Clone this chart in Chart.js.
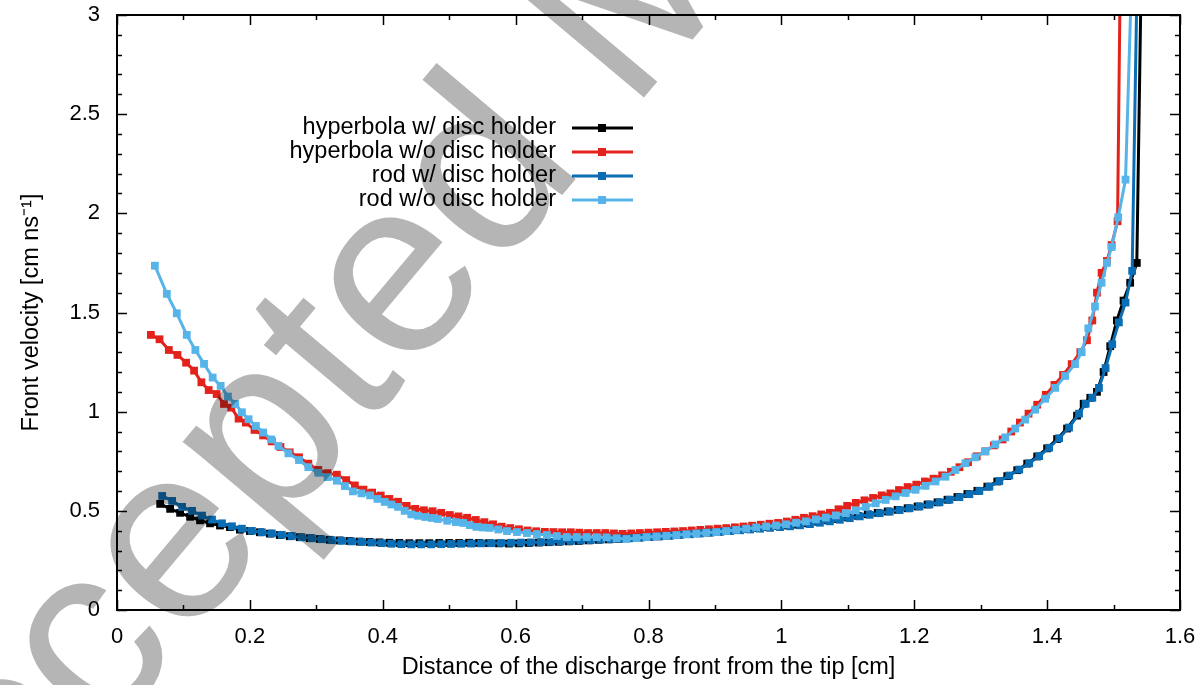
<!DOCTYPE html>
<html><head><meta charset="utf-8">
<script src="https://cdn.jsdelivr.net/npm/chart.js@4.4.1/dist/chart.umd.min.js"></script>
<style>html,body{margin:0;padding:0;background:#fff;}canvas{display:block;}</style>
</head><body>
<canvas id="c" width="1202" height="685"></canvas>
<script>
const xTickLabels = ['0','0.2','0.4','0.6','0.8','1','1.2','1.4','1.6'];
const yTickLabels = ['0','0.5','1','1.5','2','2.5','3'];
const seriesNames = ['hyperbola w/ disc holder','hyperbola w/o disc holder','rod w/ disc holder','rod w/o disc holder'];
const xTitle = 'Distance of the discharge front from the tip [cm]';
const yTitle = 'Front velocity [cm ns\u207B\u00B9]';
const watermarkText = 'Accepted Manuscript';

const hypWithX = [0.065,0.08,0.095,0.11,0.125,0.14,0.155,0.17,0.185,0.2,0.215,0.23,0.245,0.26,0.275,0.29,0.305,0.32,0.335,0.35,0.365,0.38,0.395,0.41,0.425,0.44,0.455,0.47,0.485,0.5,0.515,0.53,0.545,0.56,0.575,0.59,0.605,0.62,0.635,0.65,0.665,0.68,0.695,0.71,0.725,0.74,0.755,0.77,0.785,0.8,0.815,0.83,0.845,0.86,0.875,0.89,0.905,0.92,0.935,0.95,0.965,0.98,0.995,1.01,1.025,1.04,1.055,1.07,1.085,1.1,1.115,1.13,1.145,1.16,1.175,1.19,1.205,1.22,1.235,1.25,1.265,1.28,1.295,1.31,1.325,1.34,1.355,1.37,1.385,1.4,1.415,1.43,1.445,1.455,1.465,1.475,1.485,1.495,1.505,1.515,1.525,1.535,1.543];
const hypWithY = [0.535,0.51,0.49,0.47,0.452,0.437,0.426,0.418,0.405,0.398,0.392,0.385,0.378,0.372,0.367,0.362,0.358,0.354,0.351,0.348,0.345,0.343,0.341,0.339,0.338,0.337,0.337,0.337,0.338,0.338,0.338,0.339,0.338,0.337,0.336,0.335,0.336,0.338,0.34,0.342,0.344,0.346,0.348,0.351,0.354,0.356,0.359,0.362,0.365,0.368,0.371,0.375,0.379,0.383,0.387,0.391,0.395,0.399,0.403,0.408,0.413,0.418,0.423,0.426,0.43,0.437,0.445,0.452,0.459,0.467,0.475,0.483,0.49,0.497,0.505,0.513,0.522,0.532,0.543,0.556,0.57,0.585,0.601,0.622,0.648,0.675,0.705,0.738,0.774,0.815,0.862,0.915,0.98,1.04,1.07,1.1,1.2,1.33,1.46,1.56,1.65,1.75,3.5];

const hypWithoutX = [0.051,0.064,0.078,0.091,0.104,0.116,0.127,0.138,0.150,0.161,0.172,0.183,0.194,0.207,0.22,0.233,0.246,0.26,0.274,0.288,0.303,0.317,0.331,0.345,0.358,0.371,0.384,0.397,0.41,0.423,0.436,0.449,0.462,0.475,0.488,0.501,0.514,0.527,0.54,0.553,0.566,0.579,0.592,0.605,0.618,0.631,0.644,0.657,0.67,0.683,0.696,0.709,0.722,0.735,0.748,0.761,0.774,0.787,0.8,0.813,0.826,0.839,0.852,0.865,0.878,0.891,0.904,0.917,0.93,0.943,0.956,0.969,0.982,0.995,1.008,1.021,1.034,1.047,1.06,1.073,1.086,1.099,1.112,1.125,1.138,1.151,1.164,1.177,1.19,1.203,1.216,1.229,1.242,1.255,1.268,1.281,1.294,1.307,1.32,1.333,1.346,1.359,1.372,1.385,1.398,1.411,1.424,1.437,1.45,1.46,1.468,1.475,1.482,1.49,1.497,1.506,1.511];
const hypWithoutY = [1.387,1.365,1.311,1.286,1.247,1.207,1.148,1.109,1.089,1.039,1.02,0.965,0.945,0.908,0.88,0.85,0.822,0.795,0.77,0.738,0.706,0.69,0.682,0.655,0.628,0.607,0.592,0.577,0.56,0.546,0.525,0.51,0.503,0.498,0.49,0.479,0.472,0.465,0.454,0.443,0.432,0.42,0.413,0.407,0.401,0.397,0.394,0.393,0.392,0.392,0.39,0.388,0.388,0.388,0.386,0.384,0.386,0.388,0.39,0.392,0.394,0.396,0.398,0.401,0.404,0.407,0.41,0.413,0.417,0.421,0.425,0.43,0.435,0.439,0.446,0.455,0.465,0.473,0.482,0.49,0.508,0.525,0.54,0.553,0.565,0.578,0.588,0.605,0.62,0.632,0.648,0.662,0.679,0.697,0.72,0.745,0.775,0.8,0.83,0.86,0.9,0.945,0.99,1.035,1.085,1.135,1.185,1.24,1.3,1.36,1.46,1.6,1.7,1.76,1.84,1.96,3.5];

const rodWithX = [0.068,0.083,0.098,0.113,0.128,0.143,0.158,0.173,0.188,0.203,0.218,0.233,0.248,0.263,0.278,0.293,0.308,0.323,0.338,0.353,0.368,0.383,0.398,0.413,0.428,0.443,0.458,0.473,0.488,0.503,0.518,0.533,0.548,0.563,0.578,0.593,0.608,0.623,0.638,0.653,0.668,0.683,0.698,0.713,0.728,0.743,0.758,0.773,0.788,0.803,0.818,0.833,0.848,0.863,0.878,0.893,0.908,0.923,0.938,0.953,0.968,0.983,0.998,1.013,1.028,1.043,1.058,1.073,1.088,1.103,1.118,1.133,1.148,1.163,1.178,1.193,1.208,1.223,1.238,1.253,1.268,1.283,1.298,1.313,1.328,1.343,1.358,1.373,1.388,1.403,1.418,1.433,1.448,1.458,1.468,1.478,1.488,1.498,1.508,1.518,1.528,1.537];
const rodWithY = [0.575,0.55,0.52,0.5,0.476,0.456,0.437,0.422,0.41,0.399,0.392,0.386,0.379,0.373,0.367,0.362,0.357,0.352,0.349,0.346,0.343,0.34,0.337,0.334,0.332,0.331,0.331,0.331,0.332,0.333,0.334,0.335,0.336,0.337,0.338,0.339,0.34,0.341,0.342,0.344,0.346,0.348,0.35,0.352,0.355,0.357,0.36,0.362,0.365,0.368,0.372,0.375,0.379,0.382,0.386,0.39,0.394,0.398,0.402,0.406,0.41,0.414,0.418,0.422,0.427,0.433,0.44,0.447,0.455,0.463,0.472,0.48,0.488,0.496,0.504,0.513,0.522,0.532,0.543,0.556,0.569,0.584,0.6,0.622,0.65,0.678,0.708,0.74,0.776,0.818,0.866,0.92,0.99,1.04,1.07,1.12,1.22,1.34,1.45,1.55,1.71,3.5];

const rodWithoutX = [0.057,0.075,0.09,0.105,0.118,0.131,0.144,0.156,0.167,0.178,0.188,0.198,0.209,0.22,0.232,0.243,0.258,0.274,0.288,0.303,0.317,0.331,0.343,0.355,0.368,0.381,0.392,0.403,0.413,0.423,0.433,0.443,0.453,0.464,0.474,0.483,0.497,0.51,0.521,0.531,0.541,0.551,0.561,0.574,0.587,0.602,0.617,0.632,0.647,0.662,0.677,0.692,0.707,0.722,0.737,0.752,0.767,0.782,0.797,0.812,0.827,0.842,0.857,0.872,0.887,0.902,0.917,0.932,0.947,0.962,0.977,0.992,1.007,1.022,1.037,1.052,1.067,1.082,1.097,1.112,1.127,1.142,1.157,1.172,1.187,1.202,1.217,1.232,1.247,1.262,1.277,1.292,1.307,1.322,1.337,1.352,1.367,1.382,1.397,1.412,1.427,1.442,1.452,1.462,1.472,1.482,1.49,1.497,1.507,1.518,1.53];
const rodWithoutY = [1.736,1.594,1.496,1.387,1.311,1.241,1.172,1.13,1.076,1.039,0.997,0.962,0.928,0.895,0.86,0.827,0.79,0.756,0.72,0.692,0.67,0.652,0.625,0.598,0.588,0.578,0.56,0.545,0.532,0.52,0.5,0.482,0.475,0.469,0.464,0.459,0.45,0.443,0.439,0.428,0.419,0.416,0.414,0.406,0.398,0.393,0.388,0.383,0.378,0.373,0.368,0.368,0.368,0.367,0.366,0.362,0.358,0.363,0.368,0.371,0.374,0.378,0.382,0.386,0.39,0.393,0.398,0.404,0.41,0.416,0.421,0.426,0.432,0.44,0.447,0.457,0.466,0.477,0.488,0.502,0.52,0.538,0.555,0.573,0.59,0.606,0.626,0.648,0.672,0.706,0.74,0.77,0.8,0.835,0.87,0.915,0.96,1.01,1.065,1.12,1.18,1.24,1.3,1.42,1.53,1.65,1.75,1.83,1.98,2.17,3.5];

const colors = ['#000000','#e3231b','#0b6db3','#56b4e9'];

function pts(xs, ys){ const n=Math.min(xs.length, ys.length); const a=[]; for(let i=0;i<n;i++) a.push({x:xs[i], y:ys[i]}); return a; }
function isMult(v, s){ const r=v/s; return Math.abs(r-Math.round(r))<1e-6; }

const FONT = "'Liberation Sans', Arial, Helvetica, sans-serif";
const FS = 22;   // tick labels
const FT = 23.5; // titles and legend

const allX = [hypWithX, hypWithoutX, rodWithX, rodWithoutX];
const allY = [hypWithY, hypWithoutY, rodWithY, rodWithoutY];
const datasets = seriesNames.map((name,i)=>({
  label: name,
  data: pts(allX[i], allY[i]),
  borderColor: colors[i],
  backgroundColor: colors[i],
  borderWidth: 3,
  pointStyle: 'rect',
  pointRadius: 5.5,
  pointBorderWidth: 0,
  pointHoverRadius: 5.5,
  order: 4 - i,
  tension: 0,
  fill: false
}));

const bgPlugin = { id:'bg', beforeDraw(chart){ const c=chart.ctx; c.save(); c.fillStyle='#fff'; c.fillRect(0,0,chart.width,chart.height); c.restore(); } };

const framePlugin = {
  id:'frame',
  afterDatasetsDraw(chart){
    const {ctx, chartArea:{left,right,top,bottom}, scales:{x,y}} = chart;
    ctx.save();
    ctx.strokeStyle='#000'; ctx.lineWidth=1.5;
    ctx.beginPath();
    x.ticks.forEach(t=>{ const px=Math.round(x.getPixelForValue(t.value))+0.5; const L=isMult(t.value,0.2)?10:5;
      ctx.moveTo(px,bottom); ctx.lineTo(px,bottom-L); ctx.moveTo(px,top); ctx.lineTo(px,top+L); });
    y.ticks.forEach(t=>{ const py=Math.round(y.getPixelForValue(t.value))+0.5; const L=isMult(t.value,0.5)?10:5;
      ctx.moveTo(left,py); ctx.lineTo(left+L,py); ctx.moveTo(right,py); ctx.lineTo(right-L,py); });
    ctx.stroke();
    ctx.lineWidth=2;
    ctx.strokeRect(left,top,right-left,bottom-top);
    // legend (gnuplot style: text right-aligned, sample on the right)
    ctx.font = FT+'px '+FONT; ctx.textAlign='right'; ctx.textBaseline='middle'; ctx.fillStyle='#000';
    const rowY=[128,152,176,200];
    chart.data.datasets.forEach((ds,i)=>{
      const yy=rowY[i];
      ctx.fillText(ds.label, 556, yy);
      ctx.strokeStyle=ds.borderColor; ctx.lineWidth=3;
      ctx.beginPath(); ctx.moveTo(572,yy); ctx.lineTo(633,yy); ctx.stroke();
      ctx.fillStyle=ds.borderColor; ctx.fillRect(602-4,yy-4,8,8);
      ctx.fillStyle='#000';
    });
    ctx.restore();
  },
  afterDraw(chart){
    const ctx=chart.ctx;
    ctx.save();
    ctx.globalCompositeOperation='multiply';
    ctx.fillStyle='#b5b5b5';
    ctx.translate(-84,965);
    ctx.rotate(-50*Math.PI/180);
    ctx.font='250px '+FONT;
    ctx.textAlign='left'; ctx.textBaseline='alphabetic';
    ctx.fillText(watermarkText,0,0);
    ctx.restore();
  }
};

new Chart(document.getElementById('c'), {
  type:'line',
  data:{ datasets },
  options:{
    responsive:false, animation:false, devicePixelRatio:1,
    layout:{ padding:{ left:0, right:22, top:15, bottom:0 } },
    plugins:{ legend:{display:false}, tooltip:{enabled:false} },
    elements:{ line:{ borderJoinStyle:'round' } },
    scales:{
      x:{ type:'linear', min:0, max:1.6,
        afterFit(s){ s.height=75; s.paddingLeft=0; s.paddingRight=0; },
        grid:{display:false, drawTicks:false}, border:{display:false},
        ticks:{ stepSize:0.1, autoSkip:false, maxRotation:0, padding:14, color:'#000', font:{family:FONT,size:FS},
          callback(v){ return isMult(v,0.2) ? xTickLabels[Math.round(v/0.2)] : ''; } },
        title:{ display:true, text:xTitle, color:'#000', font:{family:FONT,size:FT}, padding:{top:0,bottom:3} }
      },
      y:{ type:'linear', min:0, max:3,
        afterFit(s){ s.width=117; s.paddingTop=0; s.paddingBottom=0; },
        grid:{display:false, drawTicks:false}, border:{display:false},
        ticks:{ stepSize:0.1, autoSkip:false, padding:17, color:'#000', font:{family:FONT,size:FS},
          callback(v){ return isMult(v,0.5) ? yTickLabels[Math.round(v/0.5)] : ''; } },
        title:{ display:true, text:yTitle, color:'#000', font:{family:FONT,size:FT}, padding:{top:17,bottom:0} }
      }
    }
  },
  plugins:[bgPlugin, framePlugin]
});
</script>
</body></html>
